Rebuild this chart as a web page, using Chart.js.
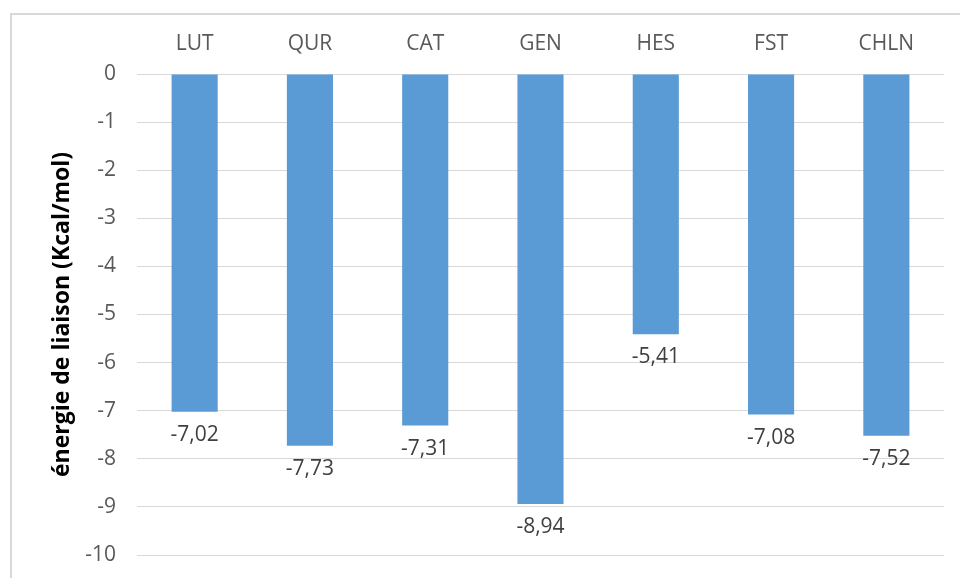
<!DOCTYPE html>
<html>
<head>
<meta charset="utf-8">
<script src="https://cdn.jsdelivr.net/npm/chart.js@4/dist/chart.umd.min.js"></script>
<style>
html,body{margin:0;padding:0;background:#fff;}
#wrap{position:relative;width:960px;height:578px;overflow:hidden;}
#frame{position:absolute;left:10px;top:13px;width:1000px;height:700px;border-left:2px solid #d9d9d9;border-top:2px solid #d9d9d9;box-sizing:border-box;}
canvas{position:absolute;left:0;top:0;}
</style>
</head>
<body>
<div id="wrap">
<div id="frame"></div>
<canvas id="c" width="960" height="578"></canvas>
</div>
<script>
const categories = ['LUT', 'QUR', 'CAT', 'GEN', 'HES', 'FST', 'CHLN'];
const energies = [-7.02, -7.73, -7.31, -8.94, -5.41, -7.08, -7.52];
const yTitle = 'énergie de liaison (Kcal/mol)';

const FONT = "'Open Sans', 'Liberation Sans', sans-serif";

const valueLabels = {
  id: 'valueLabels',
  afterDatasetsDraw(chart) {
    const ctx = chart.ctx;
    const meta = chart.getDatasetMeta(0);
    ctx.save();
    ctx.font = '21px ' + FONT;
    ctx.fillStyle = '#404040';
    ctx.textAlign = 'center';
    ctx.textBaseline = 'middle';
    meta.data.forEach((bar, i) => {
      const v = chart.data.datasets[0].data[i];
      const txt = v.toFixed(2).replace('.', ',');
      ctx.fillText(txt, bar.x, bar.y + 23);
    });
    ctx.restore();
  }
};

new Chart(document.getElementById('c'), {
  type: 'bar',
  data: {
    labels: categories,
    datasets: [{
      data: energies,
      backgroundColor: '#5B9BD5',
      borderWidth: 0,
      categoryPercentage: 1,
      barPercentage: 0.4
    }]
  },
  options: {
    responsive: false,
    animation: false,
    devicePixelRatio: 1,
    layout: { padding: { left: 0, right: 16, top: 0, bottom: 23 } },
    plugins: { legend: { display: false }, tooltip: { enabled: false } },
    scales: {
      x: {
        position: 'top',
        grid: { display: false, drawTicks: false },
        border: { display: false },
        ticks: { color: '#595959', font: { family: FONT, size: 21 }, padding: 17, maxRotation: 0 },
        afterFit(s) { s.height = 74; s.paddingLeft = 0; s.paddingRight = 0; }
      },
      y: {
        min: -10,
        max: 0,
        grid: { color: '#d9d9d9', lineWidth: 1, drawTicks: false },
        border: { display: false },
        ticks: { stepSize: 1, color: '#595959', font: { family: FONT, size: 21 }, padding: 21 },
        title: { display: true, text: yTitle, color: '#000', font: { family: FONT, size: 23, weight: 'bold' }, padding: { top: 49, bottom: 0 } },
        afterFit(s) { s.width = 137; s.paddingTop = 0; s.paddingBottom = 0; }
      }
    }
  },
  plugins: [valueLabels]
});
</script>
</body>
</html>
